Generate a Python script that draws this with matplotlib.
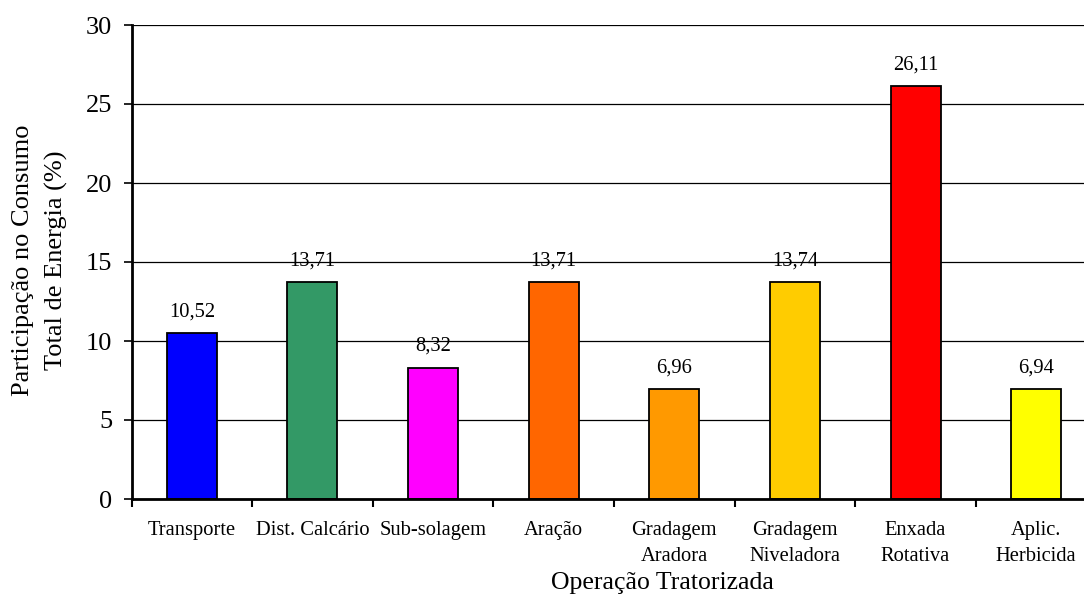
import matplotlib.pyplot as plt
import numpy as np

plt.rcParams["font.family"] = ["Liberation Serif", "DejaVu Serif"]

operacoes = ["Transporte", "Dist. Calcário", "Sub-solagem", "Aração",
             "Gradagem\nAradora", "Gradagem\nNiveladora", "Enxada\nRotativa",
             "Aplic.\nHerbicida"]
participacao = [10.52, 13.71, 8.32, 13.71, 6.96, 13.74, 26.11, 6.94]
rotulos = ["10,52", "13,71", "8,32", "13,71", "6,96", "13,74", "26,11", "6,94"]
cores = ["#0000FF", "#339966", "#FF00FF", "#FF6600",
         "#FF9900", "#FFCC00", "#FF0000", "#FFFF00"]
yticks = [0, 5, 10, 15, 20, 25, 30]

fig = plt.figure(figsize=(10.84, 5.95), dpi=100)
ax = fig.add_axes([131.5 / 1084, 96 / 595, 965 / 1084, 474 / 595])

x = np.arange(len(operacoes))
bars = ax.bar(x, participacao, width=0.415, color=cores,
              edgecolor="black", linewidth=1.3, zorder=3)

for b, txt in zip(bars, rotulos):
    ax.annotate(txt, (b.get_x() + b.get_width() / 2, b.get_height()),
                xytext=(0, 12), textcoords="offset points",
                ha="center", va="baseline", fontsize=14.8)

ax.set_xlim(-0.5, len(operacoes) - 0.5)
ax.set_ylim(0, 30)
ax.set_yticks(yticks)
ax.set_yticklabels([str(v) for v in yticks], fontsize=19)
ax.yaxis.grid(True, color="black", linewidth=0.9, zorder=0)
ax.set_axisbelow(True)

# category boundaries as major ticks, labels on minor ticks
ax.set_xticks(np.arange(-0.5, len(operacoes), 1.0))
ax.set_xticklabels([])
ax.set_xticks(x, minor=True)
ax.set_xticklabels(operacoes, minor=True, fontsize=14.8, linespacing=1.45)
ax.tick_params(axis="x", which="major", direction="out", length=6, width=1.5)
ax.tick_params(axis="x", which="minor", length=0, pad=16)
ax.tick_params(axis="y", direction="out", length=6, width=1.2, pad=8)

for side in ["top", "right"]:
    ax.spines[side].set_visible(False)
for side in ["left", "bottom"]:
    ax.spines[side].set_linewidth(2)
    ax.spines[side].set_zorder(4)

fig.text(40 / 1084, 1 - 260 / 595, "Participação no Consumo\nTotal de Energia (%)",
         rotation=90, ha="center", va="center", multialignment="center",
         fontsize=19, linespacing=1.6)
fig.text(662 / 1084, 1 - 589 / 595, "Operação Tratorizada",
         ha="center", va="baseline", fontsize=18.5)

fig.savefig("out.png", dpi=100)
